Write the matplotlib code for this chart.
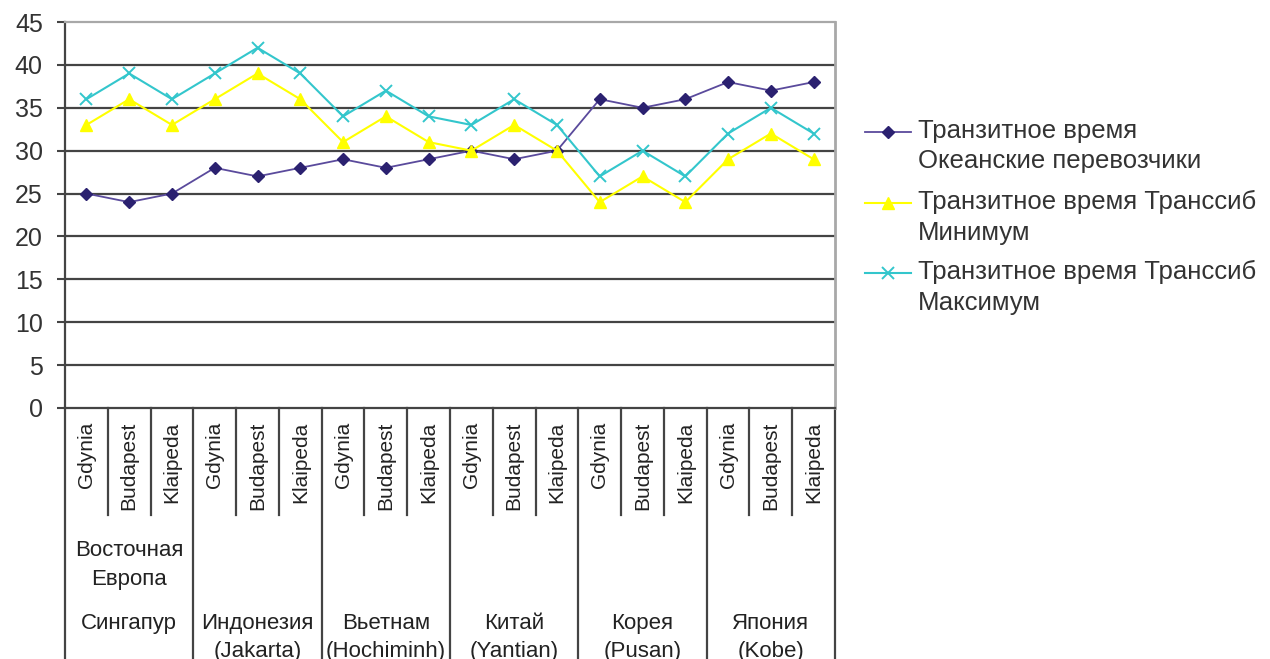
import matplotlib
matplotlib.use("Agg")
import matplotlib.pyplot as plt
from matplotlib.lines import Line2D

plt.rcParams["font.family"] = ["Liberation Sans", "DejaVu Sans"]

# routes: destination city within each origin port group
cities = ["Gdynia", "Budapest", "Klaipeda"]
ports = ["Сингапур", "Индонезия\n(Jakarta)", "Вьетнам\n(Hochiminh)",
         "Китай\n(Yantian)", "Корея\n(Pusan)", "Япония\n(Kobe)"]
region = "Восточная\nЕвропа"

ocean = [25, 24, 25, 28, 27, 28, 29, 28, 29, 30, 29, 30, 36, 35, 36, 38, 37, 38]
tsr_min = [33, 36, 33, 36, 39, 36, 31, 34, 31, 30, 33, 30, 24, 27, 24, 29, 32, 29]
tsr_max = [36, 39, 36, 39, 42, 39, 34, 37, 34, 33, 36, 33, 27, 30, 27, 32, 35, 32]

labels = ["Транзитное время\nОкеанские перевозчики",
          "Транзитное время Транссиб\nМинимум",
          "Транзитное время Транссиб\nМаксимум"]

n = len(ocean)
x = list(range(n))
grid_col = "#444444"

fig = plt.figure(figsize=(12.7, 6.59), dpi=100)
ax = fig.add_axes([0.0512, 0.3809, 0.6063, 0.5857])

styles = [
    dict(color="#5a4a9c", lw=1.3, marker="D", ms=6.5, mfc="#2b2170", mec="#2b2170"),
    dict(color="#ffff00", lw=1.5, marker="^", ms=8, mfc="#ffff00", mec="#ffff00"),
    dict(color="#33c6cc", lw=1.5, marker="x", ms=8, mew=1.4, mec="#33c6cc"),
]
for ys, st in zip([ocean, tsr_min, tsr_max], styles):
    ax.plot(x, ys, zorder=3, **st)

ax.set_xlim(-0.5, n - 0.5)
ax.set_ylim(0, 45)
ax.set_yticks(range(0, 46, 5))
ax.tick_params(axis="y", length=6, width=1.5, color=grid_col, pad=10, labelsize=18)
for t in ax.get_yticklabels():
    t.set_color("#333333")
ax.set_xticks([])

for yv in range(5, 45, 5):
    ax.axhline(yv, color=grid_col, lw=1.6, zorder=1)

ax.spines["top"].set_color("#a8a8a8")
ax.spines["top"].set_linewidth(1.6)
ax.spines["right"].set_color("#a8a8a8")
ax.spines["right"].set_linewidth(2)
ax.spines["left"].set_color(grid_col)
ax.spines["left"].set_linewidth(1.6)
ax.spines["bottom"].set_color(grid_col)
ax.spines["bottom"].set_linewidth(1.6)

trans = ax.get_xaxis_transform()
# separators below the axis: short ones between cities, long ones between ports
for i in range(n + 1):
    b = i - 0.5
    if i % 3 == 0:
        ax.plot([b, b], [0, -0.66], transform=trans, color=grid_col, lw=1.6, clip_on=False)
    else:
        ax.plot([b, b], [0, -0.277], transform=trans, color=grid_col, lw=1.6, clip_on=False)

for i in range(n):
    ax.text(i, -0.036, cities[i % 3], transform=trans, rotation=90, ha="center",
            va="top", fontsize=15, color="#222222")

for g, name in enumerate(ports):
    ax.text(3 * g + 1, -0.53, name, transform=trans, ha="center", va="top",
            fontsize=16, linespacing=1.45, color="#222222")
ax.text(1, -0.343, region, transform=trans, ha="center", va="top",
        fontsize=16, linespacing=1.45, color="#222222")

# legend drawn by hand so the key sits on the first line of each label
leg_y = [1 - 132 / 659, 1 - 203 / 659, 1 - 273 / 659]
x0, x1 = 865 / 1270, 911 / 1270
for yy, st, lab in zip(leg_y, styles, labels):
    fig.add_artist(Line2D([x0, (x0 + x1) / 2, x1], [yy, yy, yy], markevery=[1],
                          transform=fig.transFigure, **st))
    fig.text(918 / 1270, yy + 0.02, lab, ha="left", va="top", fontsize=18.5,
             linespacing=1.35, color="#333333")

fig.savefig("out.png", dpi=100)
